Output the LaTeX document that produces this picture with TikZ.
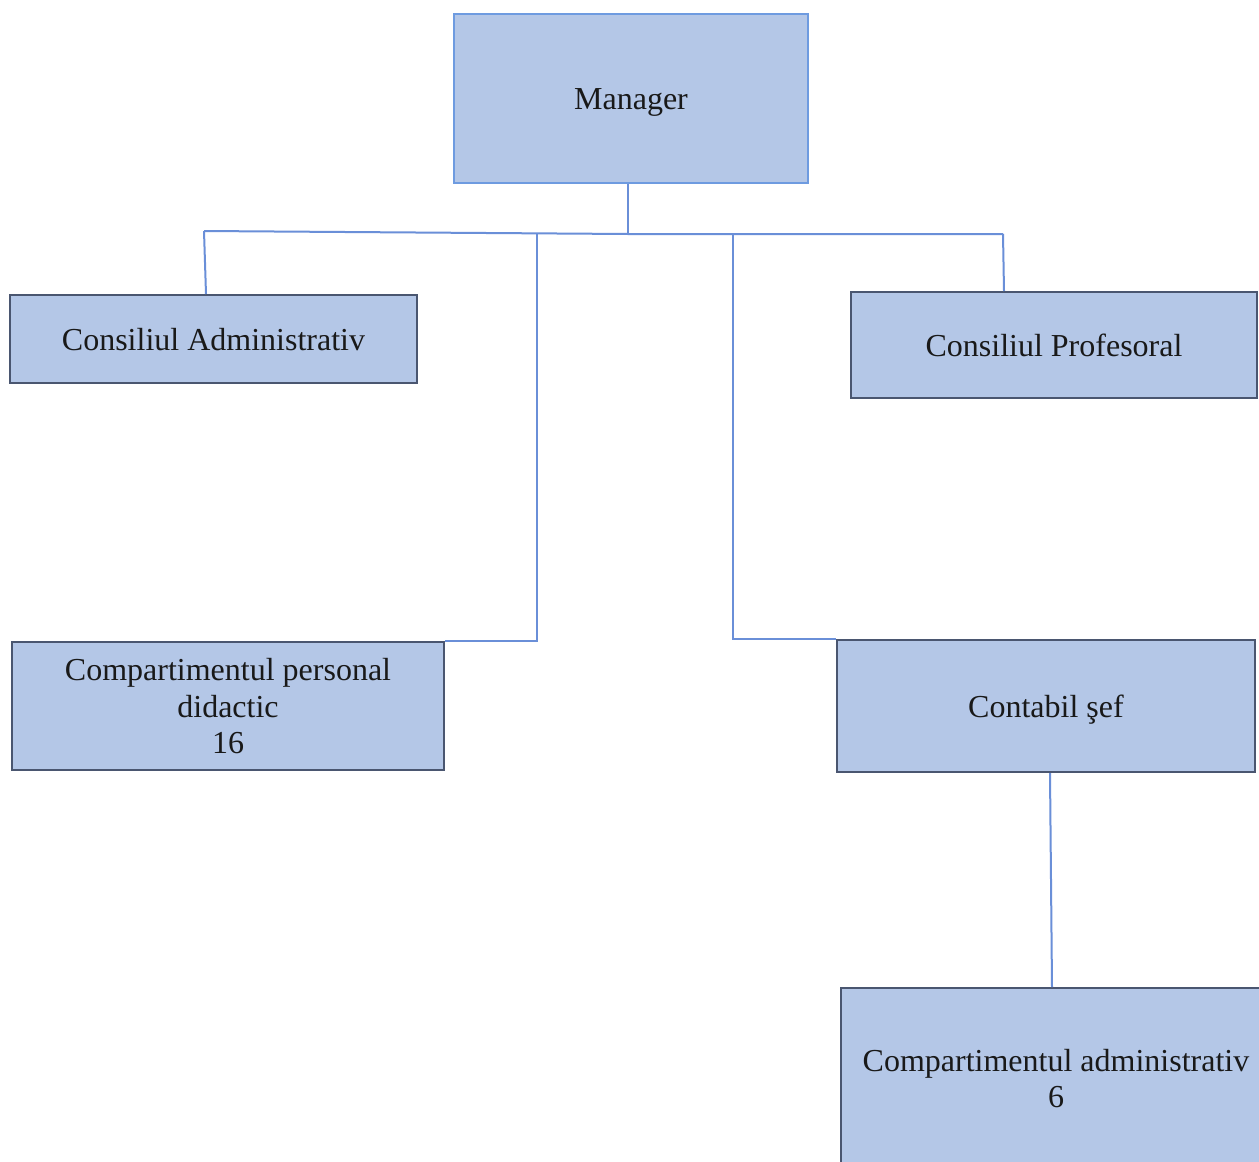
\documentclass[tikz,border=0pt]{standalone}
\usepackage{fontspec}
\setmainfont{Liberation Serif}
\definecolor{boxfill}{HTML}{B4C7E7}
\definecolor{darkedge}{HTML}{4A5670}
\definecolor{lightedge}{HTML}{6E9BE0}
\definecolor{linkblue}{HTML}{6A8FD8}
\newcommand{\boxtxt}[1]{\raisebox{-4pt}[\height][\depth]{\begin{tabular}{@{}c@{}}#1\end{tabular}}}
\begin{document}
\begin{tikzpicture}[x=1pt,y=-1pt,
  orgbox/.style={draw=darkedge,fill=boxfill,line width=2pt,inner sep=0pt,
    font=\fontsize{32}{36.5}\selectfont,text=black!90},
  link/.style={draw=linkblue,line width=2pt}]
\useasboundingbox (0,0) rectangle (1259,1162);
\clip (0,0) rectangle (1259,1162);
\fill[white] (0,0) rectangle (1259,1162);
% boxes
\node[orgbox,draw=lightedge,minimum width=354pt,minimum height=169pt] (mgr) at (631,98.5) {\boxtxt{Manager}};
\node[orgbox,minimum width=407pt,minimum height=88pt] (ca) at (213.5,339) {\boxtxt{Consiliul Administrativ}};
\node[orgbox,minimum width=406pt,minimum height=106pt] (cp) at (1054,345) {\boxtxt{Consiliul Profesoral}};
\node[orgbox,minimum width=432pt,minimum height=128pt] (cpd) at (228,706) {\boxtxt{Compartimentul personal\\didactic\\16}};
\node[orgbox,minimum width=418pt,minimum height=132pt] (cs) at (1046,706) {\boxtxt{Contabil şef}};
\node[orgbox,minimum width=430pt,minimum height=180pt] (cad) at (1056,1078) {\boxtxt{Compartimentul administrativ\\6}};
% junction coordinates
\coordinate (j) at (628,234);
\coordinate (jl) at (204,231);
\coordinate (jr) at (1003,234);
\coordinate (bl) at (537,234);
\coordinate (br) at (733,234);
% connectors
\draw[link] (mgr.south -| j) -- (j);
\draw[link] (jl) -- (j) -- (jr);
\draw[link] (jl) -- (ca.north -| 206,0);
\draw[link] (jr) -- (cp.north -| 1004,0);
\draw[link] (bl) -- (bl |- cpd.north) -- (cpd.north east);
\draw[link] (br) -- (br |- cs.north) -- (cs.north west);
\draw[link] (cs.south -| 1050,0) -- (cad.north -| 1052,0);
\end{tikzpicture}
\end{document}
